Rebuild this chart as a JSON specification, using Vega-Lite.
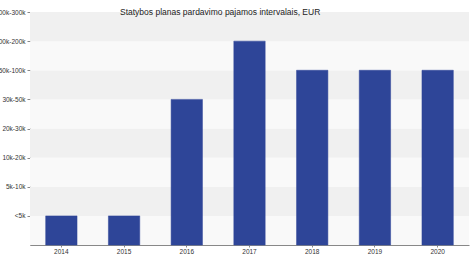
{
  "$schema": "https://vega.github.io/schema/vega-lite/v6.json",
  "width": 439,
  "height": 233,
  "autosize": {"type": "none"},
  "padding": {"left": 30, "top": 12, "right": 5, "bottom": 9},
  "background": "#ffffff",
  "config": {
    "view": {"stroke": null},
    "font": "Liberation Sans",
    "axisY": {"labelOverlap": false, "labelBound": false, "labelFlush": false, "domain": true, "domainColor": "#888888", "domainWidth": 1}
  },
  "title": {
    "text": "Statybos planas pardavimo pajamos intervalais, EUR",
    "anchor": "start",
    "frame": "group",
    "dx": 90,
    "offset": -7,
    "fontSize": 8.5,
    "fontWeight": "normal",
    "color": "#222222",
    "font": "Liberation Sans"
  },
  "datasets": {
    "levels": [
      {"label": "<5k", "lo": 0, "hi": 1},
      {"label": "5k-10k", "lo": 1, "hi": 2},
      {"label": "10k-20k", "lo": 2, "hi": 3},
      {"label": "20k-30k", "lo": 3, "hi": 4},
      {"label": "30k-50k", "lo": 4, "hi": 5},
      {"label": "50k-100k", "lo": 5, "hi": 6},
      {"label": "100k-200k", "lo": 6, "hi": 7},
      {"label": "200k-300k", "lo": 7, "hi": 8}
    ],
    "bars": [
      {"year": "2014", "level": 1, "interval": "<5k"},
      {"year": "2015", "level": 1, "interval": "<5k"},
      {"year": "2016", "level": 5, "interval": "30k-50k"},
      {"year": "2017", "level": 7, "interval": "100k-200k"},
      {"year": "2018", "level": 6, "interval": "50k-100k"},
      {"year": "2019", "level": 6, "interval": "50k-100k"},
      {"year": "2020", "level": 6, "interval": "50k-100k"}
    ]
  },
  "layer": [
    {
      "data": {"name": "levels"},
      "mark": {"type": "rect"},
      "encoding": {
        "y": {
          "field": "lo",
          "type": "quantitative",
          "scale": {"domain": [0, 8]},
          "axis": {
            "title": null,
            "values": [1, 2, 3, 4, 5, 6, 7, 8],
            "labelExpr": "['', '<5k', '5k-10k', '10k-20k', '20k-30k', '30k-50k', '50k-100k', '100k-200k', '200k-300k'][datum.value]",
            "labelOverlap": false,
            "grid": false,
            "labelFontSize": 6.5,
            "labelColor": "#333333",
            "labelPadding": 2,
            "tickSize": 3,
            "tickColor": "#888888",
            "domainColor": "#888888",
            "labelFont": "Liberation Sans"
          }
        },
        "y2": {"field": "hi"},
        "x": {"value": 0},
        "x2": {"value": 439},
        "color": {
          "condition": {"test": "datum.hi % 2 == 0", "value": "#f0f0f0"},
          "value": "#f9f9f9"
        }
      }
    },
    {
      "data": {"name": "bars"},
      "mark": {"type": "bar", "color": "#2e4598", "stroke": "#2e4598", "strokeWidth": 0.5},
      "encoding": {
        "x": {
          "field": "year",
          "type": "ordinal",
          "scale": {"paddingInner": 0.5, "paddingOuter": 0.25},
          "axis": {
            "title": null,
            "labelAngle": 0,
            "labelFontSize": 6.5,
            "labelColor": "#333333",
            "labelPadding": 1,
            "tickSize": 2,
            "tickColor": "#888888",
            "domainColor": "#888888",
            "labelFont": "Liberation Sans"
          }
        },
        "y": {
          "field": "level",
          "type": "quantitative",
          "axis": {
            "title": null,
            "values": [1, 2, 3, 4, 5, 6, 7, 8],
            "labelExpr": "['', '<5k', '5k-10k', '10k-20k', '20k-30k', '30k-50k', '50k-100k', '100k-200k', '200k-300k'][datum.value]",
            "labelOverlap": false,
            "grid": false,
            "labelFontSize": 6.5,
            "labelColor": "#333333",
            "labelPadding": 2,
            "tickSize": 3,
            "tickColor": "#888888",
            "domainColor": "#888888",
            "labelFont": "Liberation Sans"
          }
        },
        "tooltip": [{"field": "year"}, {"field": "interval"}]
      }
    }
  ]
}
